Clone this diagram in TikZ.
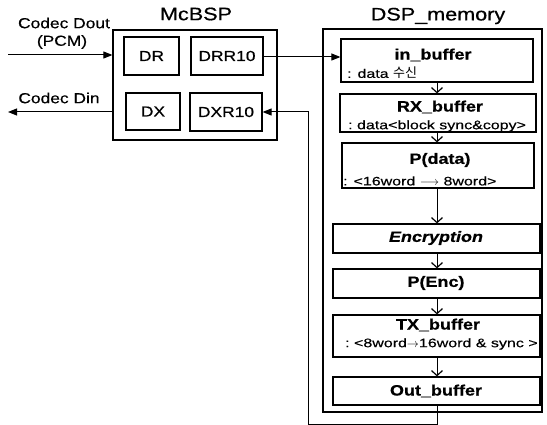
\documentclass[tikz,border=0pt]{standalone}
\usepackage{fontspec}
\setmainfont{Liberation Sans}[FakeStretch=1.2,FakeBold=0.6]
\newfontfamily\subf{Liberation Sans}[FakeStretch=1.3,FakeBold=0.4]
\newfontfamily\krf{Noto Sans CJK KR}
\usetikzlibrary{arrows.meta}
\begin{document}
\begin{tikzpicture}[x=1pt,y=-1pt,
  box/.style={draw, line width=1.2pt, inner sep=0pt},
  outerbox/.style={draw, line width=1.2pt, inner sep=0pt},
  ttl/.style={font=\fontsize{15}{18}\selectfont\bfseries, inner sep=0pt},
  sub/.style={font=\subf\fontsize{12.3}{14}\selectfont, anchor=west, inner sep=0pt},
  reg/.style={font=\fontsize{14.5}{17}\selectfont, inner sep=0pt},
  big/.style={font=\fontsize{18}{21}\selectfont, inner sep=0pt},
  reglab/.style={font=\fontsize{14.5}{17}\selectfont},
  fill arrow/.style={line width=1pt, -{Triangle[length=9pt,width=7pt]}},
  open arrow/.style={line width=1pt, -{Straight Barb[length=5pt,width=11pt,line width=1.2pt]}},
  line/.style={line width=1pt}
]
\useasboundingbox (0,0) rectangle (547,425);

% titles
\node[big] (tmc) at (196,14) {McBSP};
\node[big] (tdsp) at (438,16) {DSP\_memory};

% McBSP
\node[outerbox, minimum width=164pt, minimum height=110pt] (mcbsp) at (195,85) {};
\node[box, reglab, minimum width=55pt, minimum height=38pt] (dr) at (151.5,56) {DR};
\node[box, reglab, minimum width=72pt, minimum height=38pt] (drr) at (227,56) {DRR10};
\node[box, reglab, minimum width=54pt, minimum height=37pt] (dx) at (153,111.5) {DX};
\node[box, reglab, minimum width=72pt, minimum height=38pt] (dxr) at (226,112) {DXR10};

% DSP memory
\node[outerbox, minimum width=219pt, minimum height=383pt] (dsp) at (432.5,220.5) {};

\node[box, minimum width=192pt, minimum height=43pt] (inb) at (437,60.5) {};
\node[ttl] (inbt) at (433,55) {in\_buffer};
\node[sub] (inbs) at (347,73) {: data {\krf\fontsize{13}{14}\selectfont 수신}};

\node[box, minimum width=196pt, minimum height=38pt] (rxb) at (438,113) {};
\node[ttl] (rxbt) at (440,107) {RX\_buffer};
\node[sub] (rxbs) at (348,126) {:\ data<block sync\&copy>};

\node[box, minimum width=192pt, minimum height=45pt] (pd) at (438,165.5) {};
\node[ttl] (pdt) at (440,160) {P(data)};
\node[sub] (pds) at (343,181) {: <16word $\longrightarrow$ 8word>};

\node[box, minimum width=207pt, minimum height=29pt] (enc) at (436.5,238.5) {};
\node[ttl, font=\fontsize{15}{18}\selectfont\bfseries\itshape] (enct) at (436,238) {Encryption};

\node[box, minimum width=207pt, minimum height=29pt] (pe) at (436.5,283.5) {};
\node[ttl] (pet) at (436,283) {P(Enc)};

\node[box, minimum width=207pt, minimum height=42pt] (txb) at (436.5,336) {};
\node[ttl] (txbt) at (438,325) {TX\_buffer};
\node[sub] (txbs) at (345,344) {:\ <8word$\rightarrow$16word \& sync >};

\node[box, minimum width=207pt, minimum height=28pt] (outb) at (436.5,391) {};
\node[ttl] (outbt) at (436,391) {Out\_buffer};

% vertical flow arrows
\coordinate (ax) at (437,0);
\draw[open arrow] (inb.south -| ax) -- (rxb.north -| ax);
\draw[open arrow] (rxb.south -| ax) -- (pd.north -| ax);
\draw[open arrow] (pd.south -| ax) -- (enc.north -| ax);
\draw[open arrow] (enc.south -| ax) -- (pe.north -| ax);
\draw[open arrow] (pe.south -| ax) -- (txb.north -| ax);
\draw[open arrow] (txb.south -| ax) -- (outb.north -| ax);

% codec signals
\node[reg] (cdout) at (64,23) {Codec Dout};
\node[reg] (pcm) at (62,42) {(PCM)};
\node[reg] (cdin) at (59,98) {Codec Din};
\coordinate (dout) at (8,55);
\coordinate (din) at (8,112);
\draw[fill arrow] (dout) -- (dout -| mcbsp.west);
\draw[fill arrow] (mcbsp.west |- din) -- (din);

% DRR10 -> in_buffer
\coordinate (rxy) at (300,57);
\draw[fill arrow] (drr.east |- rxy) -- (rxy -| inb.west);

% feedback Out_buffer -> DXR10
\coordinate (fb1) at (437,424);
\coordinate (fb2) at (308,424);
\draw[line] (outb.south -| ax) -- (fb1) -- (fb2);
\draw[fill arrow] (fb2) |- (dxr.east);
\end{tikzpicture}
\end{document}
